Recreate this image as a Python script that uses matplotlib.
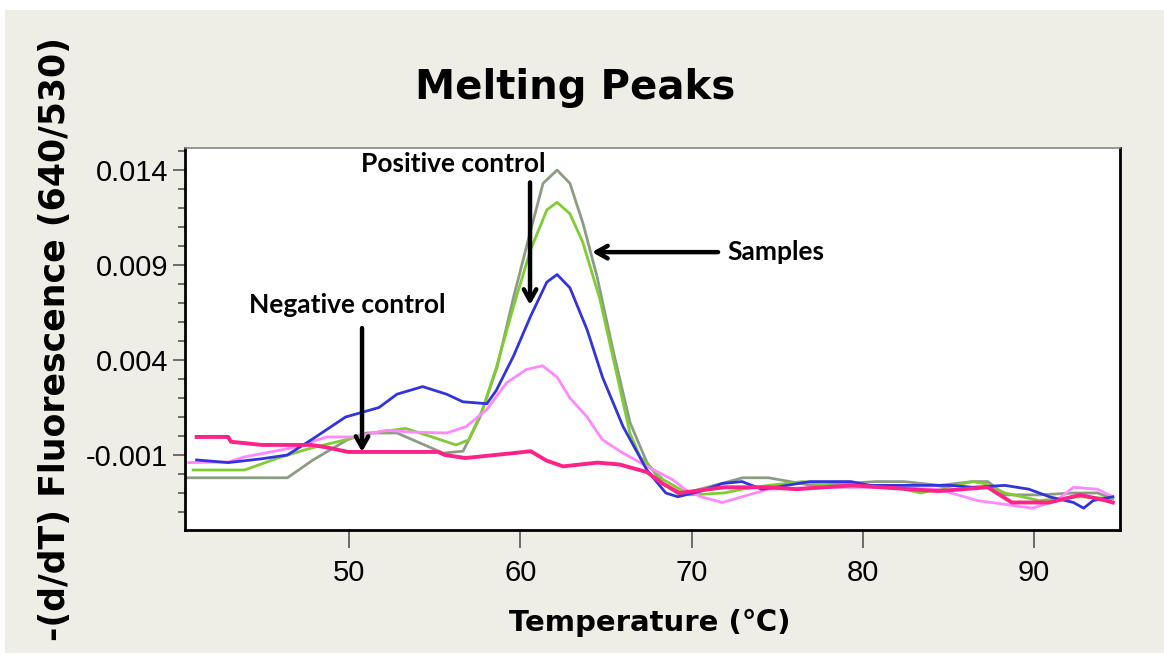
import matplotlib
matplotlib.use("Agg")
import matplotlib.pyplot as plt
from matplotlib.patches import Rectangle
from matplotlib.ticker import MultipleLocator, FixedLocator

# melting curves: temperature (C) and -(d/dT) values
gray_t = [40.5, 46.4, 47.9, 49.9, 51.05, 52.8, 54.15, 55.5, 56.66, 57.65, 58.64, 59.58,
          60.57, 61.33, 62.15, 62.9, 63.66, 64.48, 65.42, 66.41, 67.4, 68.34, 69.3, 70.5,
          73.0, 74.5, 77.0, 80.8, 82.4, 84.5, 86.4, 87.3, 88.3, 90.3, 92.3, 93.7, 94.6]
gray_v = [-0.0022, -0.0022, -0.00126, -0.0002, 0.00016, 0.00016, -0.00037, -0.0009,
          -0.0008, 0.001, 0.0036, 0.0072, 0.0107, 0.0133, 0.0140, 0.0133, 0.0112, 0.0084,
          0.0045, 0.0007, -0.0014, -0.0025, -0.0031, -0.0028, -0.0022, -0.0022, -0.0026,
          -0.0024, -0.0024, -0.0026, -0.0024, -0.0024, -0.0031, -0.0031, -0.0030, -0.0030,
          -0.0033]

green_t = [40.9, 43.9, 45.85, 47.8, 49.8, 51.35, 53.3, 54.85, 56.25, 57.0, 57.8, 58.6,
           59.6, 60.6, 61.55, 62.15, 62.9, 63.65, 64.65, 65.4, 66.4, 67.0, 68.35, 69.9,
           71.9, 72.95, 74.5, 76.5, 78.8, 81.4, 83.4, 86.4, 87.1, 88.3, 90.3, 92.7, 94.6]
green_v = [-0.00179, -0.00179, -0.00116, -0.00063, -0.0002, 0.00016, 0.0004, -0.00005,
           -0.00047, -0.0002, 0.0014, 0.0036, 0.0068, 0.0098, 0.0119, 0.0123, 0.0117,
           0.0102, 0.0072, 0.0042, 0.00016, -0.0011, -0.0023, -0.0031, -0.0030, -0.0028,
           -0.0026, -0.0024, -0.0027, -0.0026, -0.0030, -0.0024, -0.0025, -0.0030,
           -0.0034, -0.0032, -0.0033]

blue_t = [41.1, 42.95, 44.9, 46.4, 47.8, 49.8, 51.75, 52.8, 54.3, 55.7, 56.65, 58.05,
          58.6, 59.6, 60.6, 61.55, 62.15, 62.9, 63.9, 64.8, 66.0, 67.4, 68.5, 69.2, 70.55,
          71.8, 72.95, 74.1, 74.9, 76.9, 79.3, 80.4, 85.15, 86.4, 88.3, 89.7, 90.9, 92.3,
          92.9, 93.45, 94.6]
blue_v = [-0.00126, -0.0014, -0.0012, -0.001, -0.0002, 0.001, 0.0015, 0.0022, 0.0026,
          0.0022, 0.0018, 0.0017, 0.0024, 0.0042, 0.0063, 0.0081, 0.0085, 0.0078, 0.0056,
          0.0031, 0.0005, -0.0018, -0.0030, -0.0032, -0.0029, -0.0025, -0.0024, -0.0028,
          -0.0027, -0.0024, -0.0024, -0.0026, -0.0026, -0.0027, -0.0026, -0.0028,
          -0.0032, -0.0035, -0.0038, -0.0034, -0.0032]

pink_t = [40.65, 42.95, 43.9, 46.8, 48.7, 50.25, 52.2, 53.75, 55.7, 56.85, 58.05, 59.2,
          60.35, 61.3, 62.15, 62.9, 63.9, 64.8, 66.0, 67.4, 68.9, 69.6, 70.55, 71.8,
          72.95, 74.5, 77.5, 80.4, 84.4, 86.7, 88.3, 89.9, 91.3, 92.3, 93.7, 94.6]
pink_v = [-0.0014, -0.00137, -0.0011, -0.0006, -0.00005, -0.00005, 0.0003, 0.0002,
          0.00016, 0.0005, 0.0014, 0.0028, 0.0035, 0.0037, 0.0031, 0.0020, 0.0010,
          -0.0002, -0.0009, -0.0016, -0.0023, -0.0028, -0.0032, -0.0035, -0.0032,
          -0.0028, -0.0027, -0.0027, -0.0028, -0.0034, -0.0036, -0.0038, -0.0034,
          -0.0027, -0.0028, -0.0032]

neg_t = [41.1, 42.95, 43.1, 44.9, 47.8, 48.7, 49.95, 55.2, 55.6, 56.8, 59.6, 60.6, 61.55,
         62.5, 64.5, 65.8, 67.4, 68.3, 69.3, 71.9, 74.5, 76.1, 79.4, 84.4, 87.3, 88.7,
         90.9, 92.7, 94.2, 94.6]
neg_v = [-0.00005, -0.00005, -0.0003, -0.00047, -0.00047, -0.0006, -0.00084, -0.00084,
         -0.001, -0.00116, -0.0009, -0.0008, -0.0013, -0.0016, -0.0014, -0.0015, -0.0019,
         -0.0025, -0.0030, -0.0027, -0.0027, -0.0028, -0.0026, -0.0029, -0.0027, -0.0035,
         -0.0035, -0.0031, -0.0034, -0.0035]

y_ticks = [-0.001, 0.004, 0.009, 0.014]
y_labels = ["-0.001", "0.004", "0.009", "0.014"]
x_ticks = [50, 60, 70, 80, 90]

fig = plt.figure(figsize=(11.64, 6.55), dpi=100)
fig.patch.set_facecolor("white")
fig.patches.append(Rectangle((0.004, 0.003), 0.996, 0.982, transform=fig.transFigure,
                             facecolor="#eeede6", edgecolor="none", zorder=-10))

ax = fig.add_axes([0.1589, 0.1908, 0.8033, 0.5832])
ax.set_facecolor("white")

ax.plot(gray_t, gray_v, color="#8c9c84", lw=2)
ax.plot(green_t, green_v, color="#80cc33", lw=2)
ax.plot(pink_t, pink_v, color="#ff88ff", lw=2)
ax.plot(blue_t, blue_v, color="#3333dd", lw=2)
ax.plot(neg_t, neg_v, color="#ff2288", lw=2.8)

ax.set_xlim(40.42, 95.02)
ax.set_ylim(-0.00495, 0.01516)

ax.xaxis.set_major_locator(FixedLocator(x_ticks))
ax.yaxis.set_major_locator(FixedLocator(y_ticks))
ax.yaxis.set_minor_locator(MultipleLocator(0.001))
ax.set_yticklabels(y_labels)

tick_family = ["Liberation Sans Narrow", "Liberation Sans", "DejaVu Sans"]
for lab in ax.get_xticklabels() + ax.get_yticklabels():
    lab.set_fontfamily(tick_family)
    lab.set_fontsize(21)

ax.tick_params(axis="x", which="major", direction="out", length=13, width=1.2,
               color="#555555", pad=8)
ax.tick_params(axis="y", which="major", direction="out", length=9, width=1.2,
               color="#555555", pad=3)
ax.tick_params(axis="y", which="minor", direction="out", length=5, width=1.2,
               color="#555555")

for side in ax.spines.values():
    side.set_linewidth(2)
    side.set_color("black")
ax.spines["top"].set_color("#888888")
ax.spines["top"].set_linewidth(1.2)

fig.text(0.494, 0.8656, "Melting Peaks", ha="center", va="center",
         fontsize=29, fontweight="heavy", family="DejaVu Sans")
fig.text(0.558, 0.049, "Temperature (\u2103)", ha="center", va="center",
         fontsize=21, fontweight="bold", family="DejaVu Sans")
fig.text(0.047, 0.482, "-(d/dT) Fluorescence (640/530)", ha="center", va="center",
         rotation=90, fontsize=25, fontweight="bold", family="DejaVu Sans")

note = dict(fontsize=19, fontweight="bold", family=["Lato", "DejaVu Sans"], color="black")
arrow = dict(arrowstyle="->,head_length=0.8,head_width=0.45", lw=3.2, color="black",
             shrinkA=0, shrinkB=0)

ax.text(56.1, 0.01433, "Positive control", ha="center", va="center", **note)
ax.annotate("", xy=(60.57, 0.0069), xytext=(60.57, 0.01335), arrowprops=arrow)

ax.text(49.9, 0.0069, "Negative control", ha="center", va="center", **note)
ax.annotate("", xy=(50.76, -0.00084), xytext=(50.76, 0.00568), arrowprops=arrow)

ax.text(72.1, 0.00968, "Samples", ha="left", va="center", **note)
ax.annotate("", xy=(64.19, 0.00968), xytext=(71.55, 0.00968), arrowprops=arrow)

fig.savefig("out.png", dpi=100, facecolor=fig.get_facecolor())
